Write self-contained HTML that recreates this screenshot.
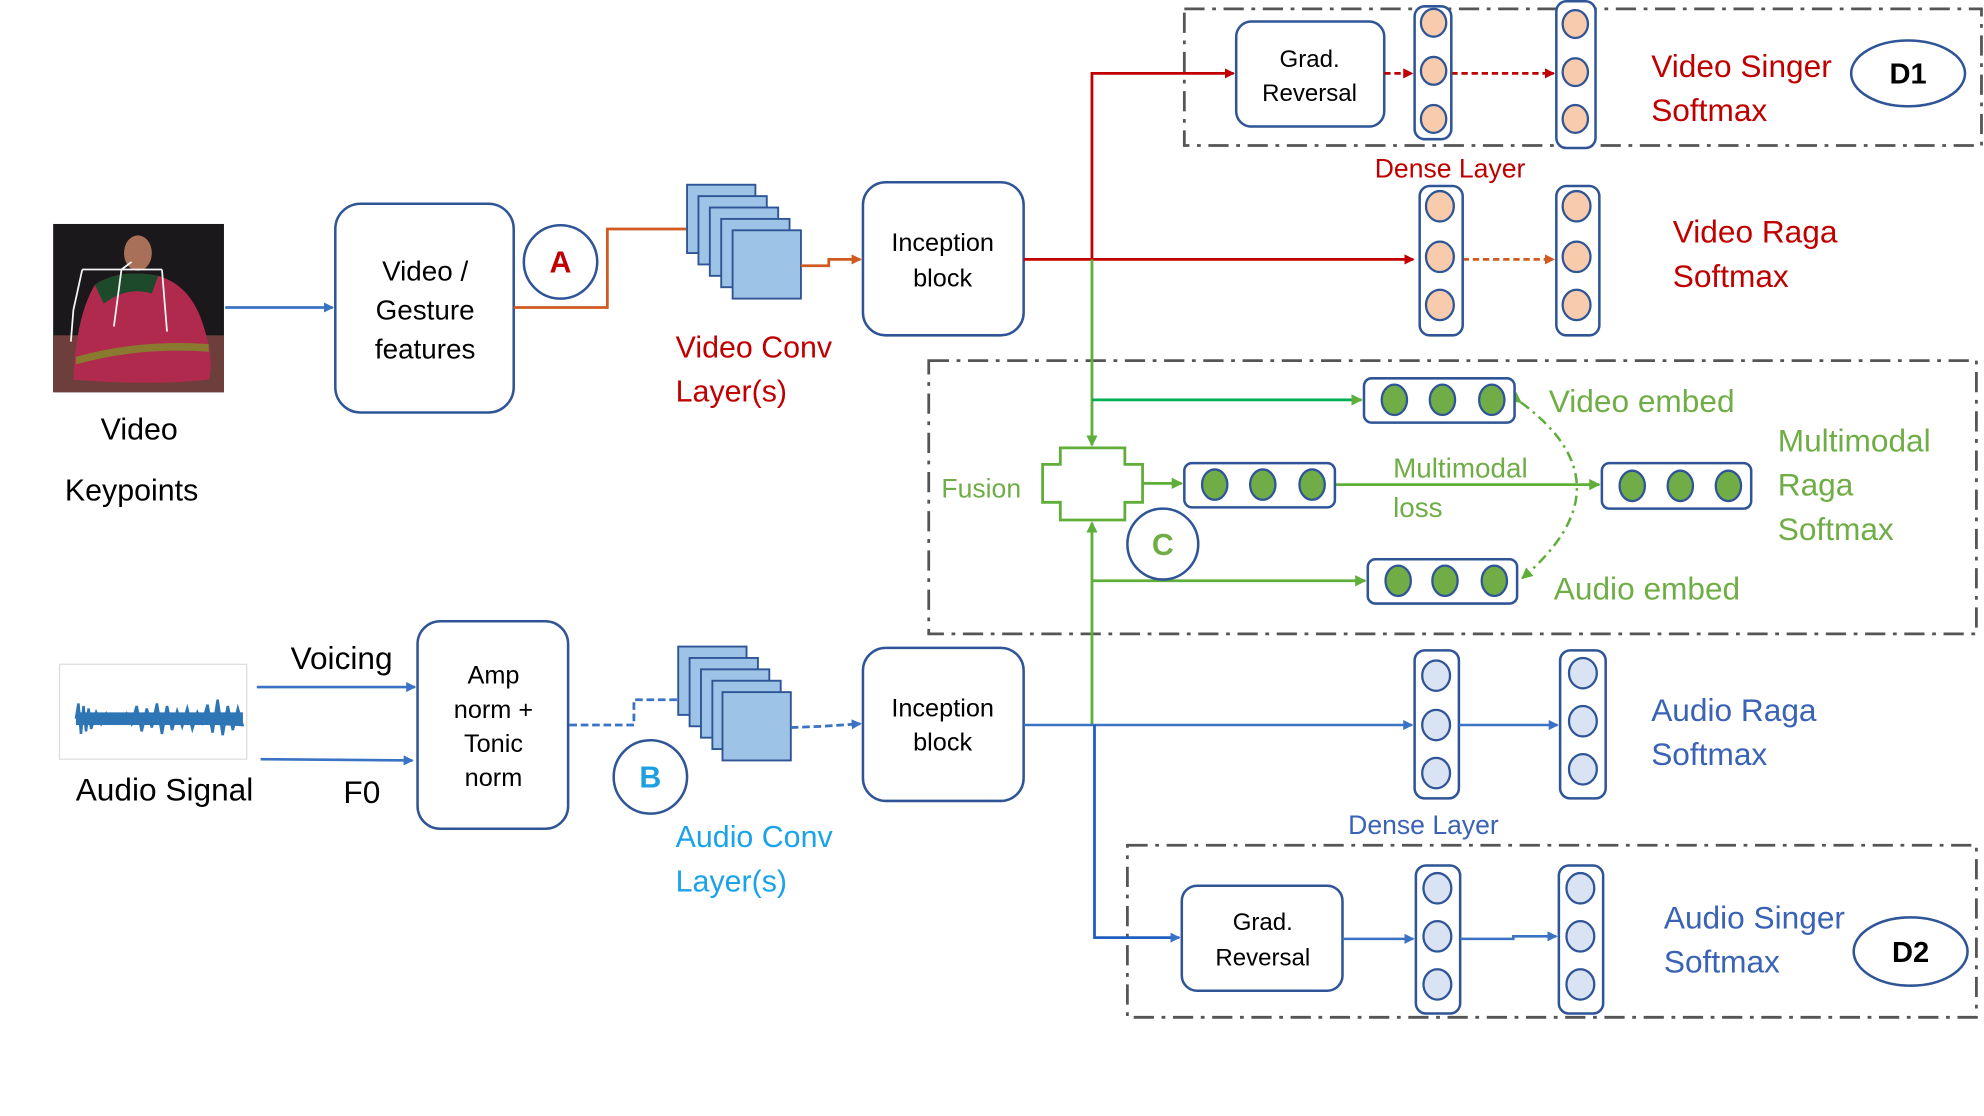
<!DOCTYPE html>
<html><head><meta charset="utf-8"><style>html,body{margin:0;padding:0;background:#fff}svg{display:block}text{font-family:"Liberation Sans",sans-serif}</style></head>
<body>
<svg width="1984" height="1116" viewBox="0 0 1568 882" xmlns="http://www.w3.org/2000/svg">
<defs>
<marker id="ar" markerWidth="8" markerHeight="8" refX="7" refY="4" orient="auto" markerUnits="userSpaceOnUse"><path d="M0,0 L8,4 L0,8z" fill="#c00000"/></marker>
<marker id="ao" markerWidth="8" markerHeight="8" refX="7" refY="4" orient="auto" markerUnits="userSpaceOnUse"><path d="M0,0 L8,4 L0,8z" fill="#d05a20"/></marker>
<marker id="ag" markerWidth="9" markerHeight="9" refX="8" refY="4.5" orient="auto" markerUnits="userSpaceOnUse"><path d="M0,0 L9,4.5 L0,9z" fill="#5fae3a"/></marker>
<marker id="ab" markerWidth="8" markerHeight="8" refX="7" refY="4" orient="auto" markerUnits="userSpaceOnUse"><path d="M0,0 L8,4 L0,8z" fill="#3a72c4"/></marker>
</defs>
<g fill="none" stroke="#555" stroke-width="2.2" stroke-dasharray="16,6,3,6">
<rect x="936" y="7" width="630" height="108"/>
<rect x="734" y="285" width="828" height="216"/>
<rect x="891" y="668" width="671" height="136"/>
</g>
<!-- photo -->
<rect x="42" y="177" width="135" height="133" fill="#1a181a"/>
<rect x="42" y="265" width="135" height="45" fill="#6e3e3c"/>
<path d="M58,300 Q60,250 75,225 Q95,212 125,218 Q150,225 160,255 Q170,285 165,300 Q120,305 58,300z" fill="#b02a4e"/>
<path d="M75,225 Q95,212 125,218 L120,232 Q100,226 82,240z" fill="#1e4a2c"/>
<path d="M60,282 Q110,268 165,272 L165,278 Q110,274 60,288z" fill="#8a7a30"/>
<ellipse cx="109" cy="200" rx="11" ry="14" fill="#a87058"/>
<path d="M65,213 L128,213 M96,213 L104,207 M96,213 L90,258 M128,213 L132,262 M65,213 L58,245 L56,270" stroke="#f4f4f4" stroke-width="1.4" fill="none"/>
<text x="110" y="340" font-size="24" text-anchor="middle" dominant-baseline="central">Video</text>
<text x="104" y="388" font-size="24" text-anchor="middle" dominant-baseline="central">Keypoints</text>
<line x1="178" y1="243" x2="263" y2="243" stroke="#3a72c4" stroke-width="2.2" marker-end="url(#ab)"/>
<rect x="265" y="161" width="141" height="165" rx="20" fill="#fff" stroke="#2f5597" stroke-width="2"/>
<g font-size="22" text-anchor="middle" dominant-baseline="central"><text x="336" y="214">Video /</text><text x="336" y="245">Gesture</text><text x="336" y="276">features</text></g>
<circle cx="443" cy="207" r="29" fill="#fff" stroke="#2f5597" stroke-width="2"/>
<text x="443" y="208" font-size="24" font-weight="bold" fill="#c00000" text-anchor="middle" dominant-baseline="central">A</text>
<polyline points="406,243 480,243 480,181 551,181" fill="none" stroke="#d05a20" stroke-width="2.2" marker-end="url(#ao)"/>
<g fill="#9dc3e6" stroke="#2f5597" stroke-width="1.5">
<rect x="543" y="146" width="54" height="54"/><rect x="552" y="155" width="54" height="54"/><rect x="561" y="164" width="54" height="54"/><rect x="570" y="173" width="54" height="54"/><rect x="579" y="182" width="54" height="54"/>
</g>
<polyline points="633,210 655,210 655,205 680,205" fill="none" stroke="#d05a20" stroke-width="2.2" marker-end="url(#ao)"/>
<text x="534" y="275" font-size="24" fill="#c00000" dominant-baseline="central">Video Conv</text>
<text x="534" y="310" font-size="24" fill="#c00000" dominant-baseline="central">Layer(s)</text>
<rect x="682" y="144" width="127" height="121" rx="18" fill="#fff" stroke="#2f5597" stroke-width="2"/>
<text x="745" y="192" font-size="20" text-anchor="middle" dominant-baseline="central">Inception</text>
<text x="745" y="220" font-size="20" text-anchor="middle" dominant-baseline="central">block</text>
<line x1="809" y1="205" x2="1117" y2="205" stroke="#c00000" stroke-width="2.2" marker-end="url(#ar)"/>
<polyline points="863,205 863,58 975,58" fill="none" stroke="#c00000" stroke-width="2.2" marker-end="url(#ar)"/>
<rect x="977" y="17" width="117" height="83" rx="12" fill="#fff" stroke="#2f5597" stroke-width="2"/>
<text x="1035" y="47" font-size="19" text-anchor="middle" dominant-baseline="central">Grad.</text>
<text x="1035" y="74" font-size="19" text-anchor="middle" dominant-baseline="central">Reversal</text>
<line x1="1094" y1="58" x2="1116" y2="58" stroke="#c00000" stroke-width="2.2" stroke-dasharray="5,3" marker-end="url(#ar)"/>
<line x1="1147" y1="58" x2="1228" y2="58" stroke="#c00000" stroke-width="2.2" stroke-dasharray="5,3" marker-end="url(#ar)"/>
<line x1="1156" y1="205" x2="1228" y2="205" stroke="#d05a20" stroke-width="2.2" stroke-dasharray="5,3" marker-end="url(#ao)"/>
<g fill="#fff" stroke="#2f5597" stroke-width="2">
<rect x="1118" y="5" width="29" height="105" rx="8"/><rect x="1230" y="1" width="31" height="116" rx="8"/>
<rect x="1122" y="147" width="34" height="118" rx="8"/><rect x="1230" y="147" width="34" height="118" rx="8"/>
<rect x="1118" y="514" width="35" height="117" rx="8"/><rect x="1233" y="514" width="36" height="117" rx="8"/>
<rect x="1119" y="684" width="35" height="117" rx="8"/><rect x="1232" y="684" width="35" height="117" rx="8"/>
</g>
<g fill="#f8cbad" stroke="#2f5597" stroke-width="1.8">
<ellipse cx="1133" cy="18" rx="10" ry="11"/><ellipse cx="1133" cy="56" rx="10" ry="11"/><ellipse cx="1133" cy="94" rx="10" ry="11"/>
<ellipse cx="1245" cy="19" rx="10" ry="11"/><ellipse cx="1245" cy="57" rx="10" ry="11"/><ellipse cx="1245" cy="94" rx="10" ry="11"/>
<ellipse cx="1138" cy="163" rx="11" ry="12"/><ellipse cx="1138" cy="203" rx="11" ry="12"/><ellipse cx="1138" cy="241" rx="11" ry="12"/>
<ellipse cx="1246" cy="163" rx="11" ry="12"/><ellipse cx="1246" cy="203" rx="11" ry="12"/><ellipse cx="1246" cy="241" rx="11" ry="12"/>
</g>
<g fill="#dae3f3" stroke="#2f5597" stroke-width="1.8">
<ellipse cx="1135" cy="534" rx="11" ry="12"/><ellipse cx="1135" cy="573" rx="11" ry="12"/><ellipse cx="1135" cy="611" rx="11" ry="12"/>
<ellipse cx="1251" cy="532" rx="11" ry="12"/><ellipse cx="1251" cy="570" rx="11" ry="12"/><ellipse cx="1251" cy="608" rx="11" ry="12"/>
<ellipse cx="1136" cy="702" rx="11" ry="12"/><ellipse cx="1136" cy="740" rx="11" ry="12"/><ellipse cx="1136" cy="778" rx="11" ry="12"/>
<ellipse cx="1249" cy="702" rx="11" ry="12"/><ellipse cx="1249" cy="740" rx="11" ry="12"/><ellipse cx="1249" cy="778" rx="11" ry="12"/>
</g>
<g font-size="25" fill="#c00000" dominant-baseline="central">
<text x="1305" y="52">Video Singer</text><text x="1305" y="87">Softmax</text>
<text x="1322" y="183">Video Raga</text><text x="1322" y="218">Softmax</text>
</g>
<text x="1146" y="133" font-size="21" fill="#c00000" text-anchor="middle" dominant-baseline="central">Dense Layer</text>
<ellipse cx="1508" cy="58" rx="45" ry="26" fill="#fff" stroke="#2f5597" stroke-width="2"/>
<text x="1508" y="59" font-size="23" font-weight="bold" text-anchor="middle" dominant-baseline="central">D1</text>
<line x1="863" y1="205" x2="863" y2="352" stroke="#5fae3a" stroke-width="2.2" marker-end="url(#ag)"/>
<line x1="863" y1="316" x2="1076" y2="316" stroke="#00b050" stroke-width="2.2" marker-end="url(#ag)"/>
<line x1="863" y1="573" x2="863" y2="413" stroke="#5fae3a" stroke-width="2.2" marker-end="url(#ag)"/>
<line x1="863" y1="459" x2="1079" y2="459" stroke="#5fae3a" stroke-width="2.2" marker-end="url(#ag)"/>
<path d="M838,354 H889 V367 H903 V397 H889 V411 H838 V397 H824 V367 H838z" fill="#fff" stroke="#5fae3a" stroke-width="2.2"/>
<line x1="903" y1="382" x2="934" y2="382" stroke="#5fae3a" stroke-width="2.2" marker-end="url(#ag)"/>
<line x1="1055" y1="383" x2="1264" y2="383" stroke="#5fae3a" stroke-width="2.2" marker-end="url(#ag)"/>
<path d="M1202,318 Q1290,383 1203,457" fill="none" stroke="#5fae3a" stroke-width="2" stroke-dasharray="8,4,2,4" marker-start="url(#ag)" marker-end="url(#ag)"/>
<g fill="#fff" stroke="#2f5597" stroke-width="2">
<rect x="1078" y="299" width="119" height="35" rx="6"/><rect x="936" y="366" width="119" height="35" rx="6"/>
<rect x="1266" y="366" width="118" height="36" rx="6"/><rect x="1081" y="442" width="118" height="35" rx="6"/>
</g>
<g fill="#70ad47" stroke="#2f5597" stroke-width="1.8">
<ellipse cx="1102" cy="316" rx="10" ry="12"/><ellipse cx="1140" cy="316" rx="10" ry="12"/><ellipse cx="1179" cy="316" rx="10" ry="12"/>
<ellipse cx="960" cy="383" rx="10" ry="12"/><ellipse cx="998" cy="383" rx="10" ry="12"/><ellipse cx="1037" cy="383" rx="10" ry="12"/>
<ellipse cx="1290" cy="384" rx="10" ry="12"/><ellipse cx="1328" cy="384" rx="10" ry="12"/><ellipse cx="1366" cy="384" rx="10" ry="12"/>
<ellipse cx="1105" cy="459" rx="10" ry="12"/><ellipse cx="1142" cy="459" rx="10" ry="12"/><ellipse cx="1181" cy="459" rx="10" ry="12"/>
</g>
<g fill="#70ad47" dominant-baseline="central">
<text x="1224" y="317" font-size="25">Video embed</text>
<text x="1228" y="465" font-size="25">Audio embed</text>
<text x="1101" y="370" font-size="22">Multimodal</text>
<text x="1101" y="401" font-size="22">loss</text>
<text x="744" y="386" font-size="21">Fusion</text>
<text x="1405" y="348" font-size="25">Multimodal</text>
<text x="1405" y="383" font-size="25">Raga</text>
<text x="1405" y="418" font-size="25">Softmax</text>
</g>
<circle cx="919" cy="430" r="28" fill="#fff" stroke="#2f5597" stroke-width="2"/>
<text x="919" y="431" font-size="24" font-weight="bold" fill="#70ad47" text-anchor="middle" dominant-baseline="central">C</text>
<rect x="47" y="525" width="148" height="75" fill="#fff" stroke="#ddd" stroke-width="1"/>
<path d="M60,568 L62,556 64,580 66,558 68,578 70,560 72,576 76,563 80,572 84,564 88,571 92,565 96,570 100,564 104,572 108,558 112,578 116,560 120,575 124,556 128,580 132,558 136,577 140,562 144,574 148,560 152,576 156,563 160,571 164,557 168,579 172,553 176,581 180,558 184,577 188,560 192,574" fill="#2e75b6" stroke="#2e75b6" stroke-width="2"/>
<rect x="60" y="563" width="132" height="10" fill="#2e75b6"/>
<text x="130" y="624" font-size="25" text-anchor="middle" dominant-baseline="central">Audio Signal</text>
<text x="270" y="520" font-size="25" text-anchor="middle" dominant-baseline="central">Voicing</text>
<text x="286" y="626" font-size="25" text-anchor="middle" dominant-baseline="central">F0</text>
<line x1="203" y1="543" x2="328" y2="543" stroke="#3a72c4" stroke-width="2" marker-end="url(#ab)"/>
<line x1="206" y1="600" x2="326" y2="601" stroke="#3a72c4" stroke-width="2" marker-end="url(#ab)"/>
<rect x="330" y="491" width="119" height="164" rx="18" fill="#fff" stroke="#2f5597" stroke-width="2"/>
<g font-size="20" text-anchor="middle" dominant-baseline="central"><text x="390" y="534">Amp</text><text x="390" y="561">norm +</text><text x="390" y="588">Tonic</text><text x="390" y="615">norm</text></g>
<polyline points="450,573 501,573 501,553 552,553" fill="none" stroke="#3a72c4" stroke-width="2.2" stroke-dasharray="6,3" marker-end="url(#ab)"/>
<g fill="#9dc3e6" stroke="#2f5597" stroke-width="1.5">
<rect x="536" y="511" width="54" height="54"/><rect x="545" y="520" width="54" height="54"/><rect x="554" y="529" width="54" height="54"/><rect x="563" y="538" width="54" height="54"/><rect x="571" y="547" width="54" height="54"/>
</g>
<polyline points="625,575 650,574 680,572" fill="none" stroke="#3a72c4" stroke-width="2.2" stroke-dasharray="6,3" marker-end="url(#ab)"/>
<circle cx="514" cy="614" r="29" fill="#fff" stroke="#2f5597" stroke-width="2"/>
<text x="514" y="615" font-size="24" font-weight="bold" fill="#1ea0e0" text-anchor="middle" dominant-baseline="central">B</text>
<text x="534" y="662" font-size="24" fill="#1aa3e8" dominant-baseline="central">Audio Conv</text>
<text x="534" y="697" font-size="24" fill="#1aa3e8" dominant-baseline="central">Layer(s)</text>
<rect x="682" y="512" width="127" height="121" rx="18" fill="#fff" stroke="#2f5597" stroke-width="2"/>
<text x="745" y="560" font-size="20" text-anchor="middle" dominant-baseline="central">Inception</text>
<text x="745" y="587" font-size="20" text-anchor="middle" dominant-baseline="central">block</text>
<line x1="809" y1="573" x2="1116" y2="573" stroke="#3a72c4" stroke-width="2" marker-end="url(#ab)"/>
<polyline points="865,573 865,741 932,741" fill="none" stroke="#1f5fbf" stroke-width="2.2" marker-end="url(#ab)"/>
<line x1="1153" y1="573" x2="1231" y2="573" stroke="#3a72c4" stroke-width="2" marker-end="url(#ab)"/>
<rect x="934" y="700" width="127" height="83" rx="12" fill="#fff" stroke="#2f5597" stroke-width="2"/>
<text x="998" y="729" font-size="19" text-anchor="middle" dominant-baseline="central">Grad.</text>
<text x="998" y="757" font-size="19" text-anchor="middle" dominant-baseline="central">Reversal</text>
<line x1="1061" y1="742" x2="1117" y2="742" stroke="#3a72c4" stroke-width="2" marker-end="url(#ab)"/>
<polyline points="1154,742 1196,742 1196,740 1230,740" fill="none" stroke="#3a72c4" stroke-width="2" marker-end="url(#ab)"/>
<g font-size="25" fill="#3a62b5" dominant-baseline="central">
<text x="1305" y="561">Audio Raga</text><text x="1305" y="596">Softmax</text>
<text x="1315" y="725">Audio Singer</text><text x="1315" y="760">Softmax</text>
</g>
<text x="1125" y="652" font-size="21" fill="#3a62b5" text-anchor="middle" dominant-baseline="central">Dense Layer</text>
<ellipse cx="1510" cy="752" rx="45" ry="27" fill="#fff" stroke="#2f5597" stroke-width="2"/>
<text x="1510" y="753" font-size="23" font-weight="bold" text-anchor="middle" dominant-baseline="central">D2</text>
</svg>
</body></html>
